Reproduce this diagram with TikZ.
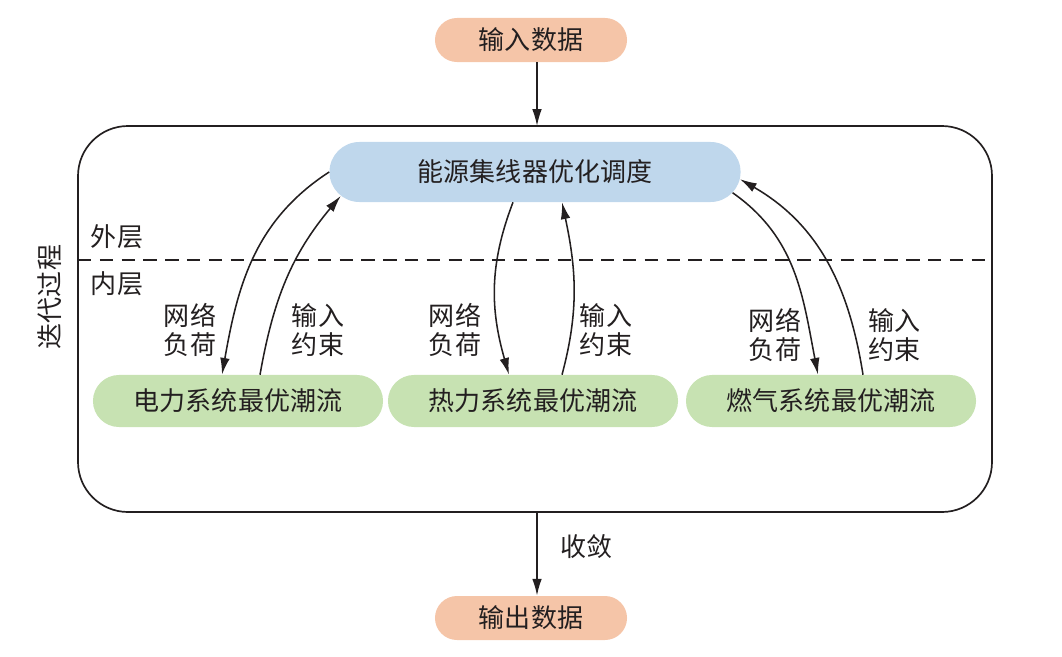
\documentclass[tikz,border=0pt]{standalone}
\usepackage{fontspec}
\setmainfont{Noto Sans CJK SC}
\usetikzlibrary{arrows.meta,shapes.misc}
\definecolor{peach}{RGB}{245,197,168}
\definecolor{hubblue}{RGB}{191,215,236}
\definecolor{flowgreen}{RGB}{199,226,178}
\definecolor{ink}{RGB}{35,31,32}
\begin{document}
\begin{tikzpicture}[x=0.025cm,y=-0.025cm,
  every node/.style={text=ink,font=\fontsize{18.5}{20.5}\selectfont},
  pill/.style={rounded rectangle,inner sep=0pt},
  arr/.style={draw=ink,line width=1.1pt,-{Latex[length=4.2mm,width=2.4mm]}}]
\useasboundingbox (0,0) rectangle (1062,656);
% outer frame and layer split
\draw[ink,line width=1.2pt,rounded corners=1.25cm] (78,126) rectangle (992,512);
\draw[ink,line width=1.1pt,dash pattern=on 9.5pt off 6pt] (78,260) -- (992,260);
\node (outer) at (117,237) {外层};
\node (inner) at (117,284) {内层};
\node[rotate=90] (iter) at (50,297) {迭代过程};
% data in / out
\node[pill,fill=peach,minimum width=4.8cm,minimum height=1.1cm] (in) at (531,40) {输入数据};
\node[pill,fill=peach,minimum width=4.8cm,minimum height=1.1cm] (out) at (531,618) {输出数据};
\coordinate (top) at (537,126);
\coordinate (bot) at (537,512);
\draw[arr] (in.south -| top) -- (top);
\draw[arr] (bot) -- (out.north -| bot) node[pos=0.41,right=0.45cm] (conv) {收敛};
% hub and the three flows
\node[pill,fill=hubblue,minimum width=10.275cm,minimum height=1.5cm] (hub) at (535,172) {能源集线器优化调度};
\node[pill,fill=flowgreen,minimum width=7.25cm,minimum height=1.3cm] (elec) at (238,401) {电力系统最优潮流};
\node[pill,fill=flowgreen,minimum width=7.25cm,minimum height=1.3cm] (heat) at (533,401) {热力系统最优潮流};
\node[pill,fill=flowgreen,minimum width=7.25cm,minimum height=1.3cm] (gas) at (831,401) {燃气系统最优潮流};
% electric
\draw[arr] (hub.west) to[out=213,in=80] ([xshift=-0.4cm]elec.north);
\draw[arr] ([xshift=0.55cm]elec.north) to[out=80,in=230] (hub.187);
\node[align=center] (eload) at (190,330) {网络\\负荷};
\node[align=center] (econ) at (318,330) {输入\\约束};
% heat
\draw[arr] ([xshift=-0.55cm]hub.south) to[out=249,in=106] ([xshift=-0.6cm]heat.north);
\draw[arr] ([xshift=0.725cm]heat.north) to[out=75,in=282] ([xshift=0.675cm]hub.south);
\node[align=center] (hload) at (455,330) {网络\\负荷};
\node[align=center] (hcon) at (606,330) {输入\\约束};
% gas
\draw[arr] (hub.-6) to[out=-35,in=101] ([xshift=-0.325cm]gas.north);
\draw[arr] ([xshift=0.8cm]gas.north) to[out=99,in=330] (hub.-2);
\node[align=center] (gload) at (775,335) {网络\\负荷};
\node[align=center] (gcon) at (894,335) {输入\\约束};
\end{tikzpicture}
\end{document}
